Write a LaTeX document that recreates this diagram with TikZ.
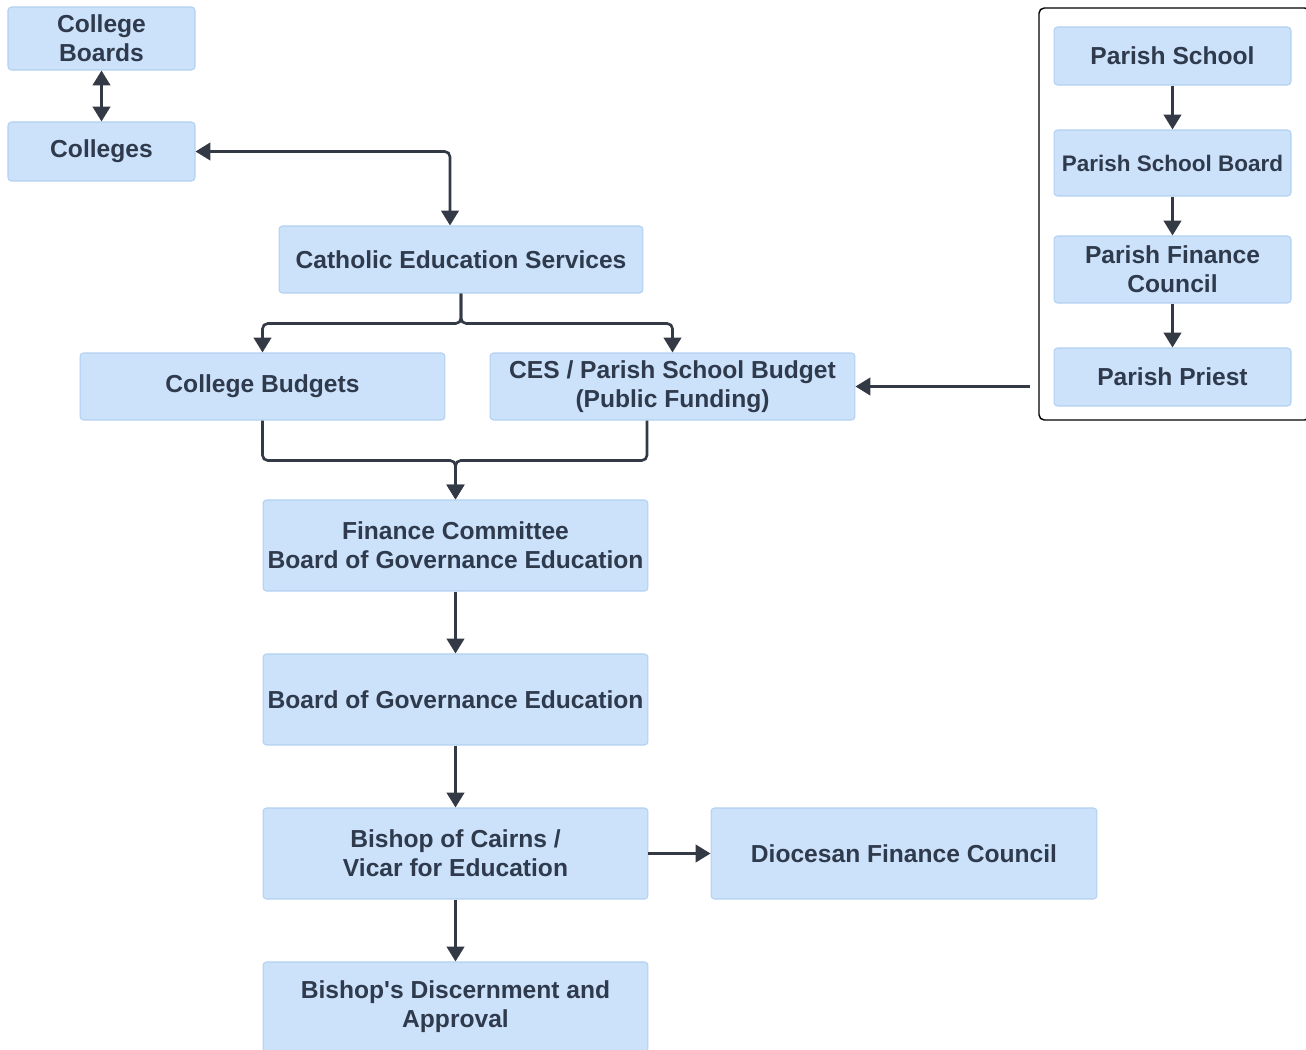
\documentclass[tikz,border=0pt]{standalone}
\usepackage{fontspec}
\setmainfont{Liberation Sans}
\usetikzlibrary{arrows.meta}
\definecolor{boxfill}{HTML}{CCE2FB}
\definecolor{boxline}{HTML}{B3D1F2}
\definecolor{boxtext}{HTML}{2F3A4C}
\definecolor{linkc}{HTML}{343A45}
\tikzset{>={Triangle[width=10pt,length=8.5pt]}}
\tikzset{
    box/.style={draw=boxline, fill=boxfill, line width=0.6pt, rounded corners=2pt,
        align=center, inner sep=2pt, text=boxtext,
        font=\bfseries\fontsize{14}{16.5}\selectfont},
    link/.style={draw=linkc, line width=1.5pt, rounded corners=3pt},
}

\begin{document}
\begin{tikzpicture}[x=0.02cm, y=-0.02cm]

    \fill[white] (0,0) rectangle (1306,1050);
    \clip (0,0) rectangle (1306,1050);

    % left column
    \node[box, minimum width=3.74cm, minimum height=1.26cm] (boards) at (101.5,38.5) {College\\Boards};
    \node[box, minimum width=3.74cm, minimum height=1.18cm] (colleges) at (101.5,151.5) {Colleges};

    \node[box, minimum width=7.28cm, minimum height=1.34cm] (ces) at (461,259.5) {Catholic Education Services};
    \node[box, minimum width=7.3cm, minimum height=1.34cm] (cbudget) at (262.5,386.5) {College Budgets};
    \node[box, minimum width=7.3cm, minimum height=1.34cm] (pbudget) at (672.5,386.5) {CES / Parish School Budget\\(Public Funding)};

    \node[box, minimum width=7.7cm, minimum height=1.82cm] (fincom) at (455.5,545.5) {Finance Committee\\Board of Governance Education};
    \node[box, minimum width=7.7cm, minimum height=1.82cm] (bge) at (455.5,699.5) {Board of Governance Education};
    \node[box, minimum width=7.7cm, minimum height=1.82cm] (bishop) at (455.5,853.5) {Bishop of Cairns /\\Vicar for Education};
    \node[box, minimum width=7.72cm, minimum height=1.82cm] (dfc) at (904,853.5) {Diocesan Finance Council};
    \node[box, minimum width=7.7cm, minimum height=1.8cm] (approval) at (455.5,1007) {Bishop\textquotesingle s Discernment and\\Approval};

    % parish group
    \draw[black, line width=0.8pt, rounded corners=3pt, fill=white] (1039,8) rectangle (1310,420);
    \node[box, minimum width=4.74cm, minimum height=1.16cm] (pschool) at (1172.5,56) {Parish School};
    \node[box, minimum width=4.74cm, minimum height=1.32cm, inner xsep=0pt,
        font=\bfseries\fontsize{12.8}{16.5}\selectfont] (pboard) at (1172.5,163) {Parish School Board};
    \node[box, minimum width=4.74cm, minimum height=1.34cm] (pfc) at (1172.5,269.5) {Parish Finance\\Council};
    \node[box, minimum width=4.74cm, minimum height=1.16cm] (priest) at (1172.5,377) {Parish Priest};
    \coordinate (pout) at (1030,386.5);

    % connectors
    \draw[link, <->] (boards) -- (colleges);
    \draw[link, <->] (colleges.east) -| ([xshift=-0.22cm]ces.north);

    \draw[link, ->] (ces.south) -- ++(0,30) -| (cbudget.north);
    \draw[link, ->] (ces.south) -- ++(0,30) -| (pbudget.north);

    \draw[link, ->] (cbudget.south) -- ++(0,40) -| (fincom.north);
    \draw[link, ->] ([xshift=-0.51cm]pbudget.south) -- ++(0,40) -| (fincom.north);

    \draw[link, ->] (pout) -- (pbudget.east);

    \draw[link, ->] (fincom) -- (bge);
    \draw[link, ->] (bge) -- (bishop);
    \draw[link, ->] (bishop) -- (approval);
    \draw[link, ->] (bishop) -- (dfc);

    \draw[link, ->] (pschool) -- (pboard);
    \draw[link, ->] (pboard) -- (pfc);
    \draw[link, ->] (pfc) -- (priest);

\end{tikzpicture}
\end{document}
